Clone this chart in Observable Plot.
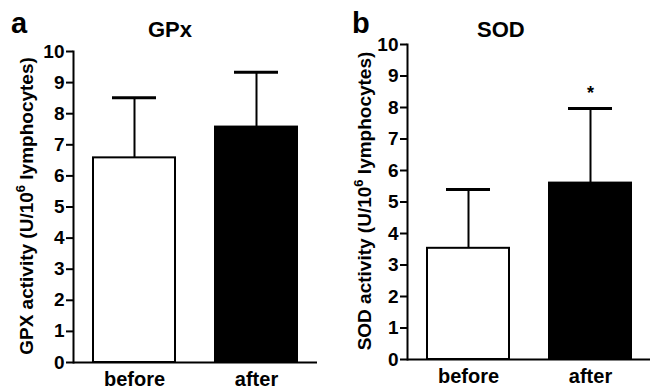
<!DOCTYPE html>
<html>
<head>
<meta charset="utf-8">
<script src="https://cdn.jsdelivr.net/npm/d3@7"></script>
<script src="https://cdn.jsdelivr.net/npm/@observablehq/plot@0.6"></script>
<style>
  html, body { margin: 0; padding: 0; background: #fff; }
  #wrap { position: relative; width: 650px; height: 389px; overflow: hidden; font-family: "Liberation Sans", Arial, sans-serif; font-weight: bold; color: #000; }
  .panel { position: absolute; top: 0; }
  .txt { position: absolute; white-space: nowrap; line-height: 1; }
  .ylab { position: absolute; white-space: nowrap; font-size: 19px; line-height: 1; transform: translate(-50%, -50%) rotate(-90deg); }
  .ylab sup { font-size: 13px; vertical-align: 0; position: relative; top: -8px; }
  #wrap svg text { font-variant: normal !important; font-variant-numeric: normal !important; }
</style>
</head>
<body>
<div id="wrap">
  <div class="panel" id="pa" style="left:0px"></div>
  <div class="panel" id="pb" style="left:325px"></div>
  <div class="txt" style="left:11px; top:9px; font-size:29px;">a</div>
  <div class="txt" style="left:148px; top:19px; font-size:22px;">GPx</div>
  <div class="txt" style="left:352px; top:9px; font-size:29px;">b</div>
  <div class="txt" style="left:477px; top:19px; font-size:22px;">SOD</div>
  <div class="ylab" style="left:26px; top:206px;">GPX activity (U/10<sup>6</sup> lymphocytes)</div>
  <div class="ylab" style="left:364px; top:201px;">SOD activity (U/10<sup>6</sup> lymphocytes)</div>
</div>
<script>
const categories = ["before", "after"];
const gpxMean = [6.58, 7.57];
const gpxSD = [1.93, 1.76];
const sodMean = [3.53, 5.60];
const sodSD = [1.87, 2.37];
const sodSignificance = ["", "*"];
const yTicks = [0, 1, 2, 3, 4, 5, 6, 7, 8, 9, 10];

function panel(means, sds, sig, opts) {
  const data = categories.map((c, i) => ({cat: c, mean: means[i], top: means[i] + sds[i], sig: sig ? sig[i] : ""}));
  return Plot.plot({
    width: 325,
    height: 389,
    marginLeft: opts.marginLeft,
    marginRight: opts.marginRight,
    marginTop: opts.marginTop,
    marginBottom: opts.marginBottom,
    style: {fontFamily: "'Liberation Sans', Arial, sans-serif", fontWeight: "bold", fontSize: "19px", color: "#000", background: "transparent"},
    x: {domain: categories, paddingInner: 0.33, paddingOuter: 0.16},
    y: {domain: [0, 10]},
    color: {domain: categories, range: ["white", "black"]},
    marks: [
      Plot.axisY({ticks: yTicks, tickSize: 7, label: null, tickFormat: () => "", strokeWidth: 2}),
      Plot.text(yTicks, {y: (d) => d, text: (d) => String(d), frameAnchor: "left", dx: -9, textAnchor: "end", fontSize: 19, fontWeight: "bold"}),
      Plot.axisX({tickSize: 0, tickPadding: 9, label: null, fontSize: 20, fontWeight: "bold"}),
      Plot.ruleX(data, {x: "cat", y1: "mean", y2: "top", stroke: "black", strokeWidth: 2}),
      Plot.tickY(data, {x: "cat", y: "top", stroke: "black", strokeWidth: 3, insetLeft: 19, insetRight: 19}),
      Plot.barY(data, {x: "cat", y: "mean", fill: "cat", stroke: "black", strokeWidth: 2}),
      Plot.text(data, {x: "cat", y: "top", text: "sig", dy: -15, fontSize: 18, fontWeight: "bold"}),
      Plot.frame({anchor: "left", strokeWidth: 2}),
      Plot.ruleY([0], {strokeWidth: 2})
    ]
  });
}

document.getElementById("pa").append(panel(gpxMean, gpxSD, null, {marginLeft: 73, marginRight: 8, marginTop: 51, marginBottom: 27}));
document.getElementById("pb").append(panel(sodMean, sodSD, sodSignificance, {marginLeft: 82, marginRight: 0, marginTop: 44, marginBottom: 30}));
</script>
</body>
</html>
